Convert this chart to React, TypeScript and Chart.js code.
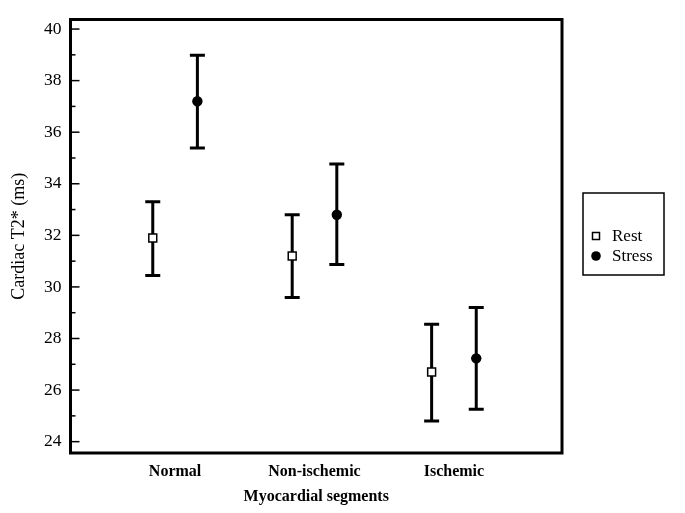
import React, { useEffect, useRef } from "react";
import { Chart, registerables } from "chart.js";

Chart.register(...registerables);

const categories = ["Normal", "Non-ischemic", "Ischemic"];
const seriesNames = ["Rest", "Stress"];
const restMean = [31.9, 31.2, 26.7];
const restLow = [30.44, 29.59, 24.8];
const restHigh = [33.3, 32.8, 28.55];
const stressMean = [37.2, 32.8, 27.23];
const stressLow = [35.39, 30.87, 25.26];
const stressHigh = [38.98, 34.77, 29.2];
const yTickValues = [24, 26, 28, 30, 32, 34, 36, 38, 40];
const xTitle = "Myocardial segments";
const yTitle = "Cardiac T2* (ms)";

const FONT = "'Liberation Serif', 'Times New Roman', serif";
const GROUP_OFFSET = 0.16;

const errorBarPlugin = {
  id: "errorBars",
  beforeDatasetsDraw(chart: any) {
    const { ctx, scales } = chart;
    const xs = scales.x;
    const ys = scales.y;
    ctx.save();
    ctx.strokeStyle = "#000";
    ctx.lineWidth = 3;
    ctx.lineCap = "butt";
    chart.data.datasets.forEach((ds: any) => {
      ds.data.forEach((p: any) => {
        const x = xs.getPixelForValue(p.x);
        const yl = ys.getPixelForValue(p.low);
        const yh = ys.getPixelForValue(p.high);
        const cap = 7.5;
        ctx.beginPath();
        ctx.moveTo(x, yl);
        ctx.lineTo(x, yh);
        ctx.moveTo(x - cap, yl);
        ctx.lineTo(x + cap, yl);
        ctx.moveTo(x - cap, yh);
        ctx.lineTo(x + cap, yh);
        ctx.stroke();
      });
    });
    ctx.restore();
  },
  afterDraw(chart: any) {
    const { ctx, chartArea, scales } = chart;
    const ys = scales.y;
    ctx.save();
    // y tick marks (inside)
    ctx.strokeStyle = "#000";
    ctx.lineWidth = 1.5;
    for (let v = Math.ceil(ys.min); v <= Math.floor(ys.max); v++) {
      const y = ys.getPixelForValue(v);
      const len = v % 2 === 0 ? 9 : 5;
      ctx.beginPath();
      ctx.moveTo(chartArea.left, y);
      ctx.lineTo(chartArea.left + len, y);
      ctx.stroke();
    }
    // frame
    ctx.lineWidth = 3;
    ctx.strokeRect(chartArea.left, chartArea.top, chartArea.right - chartArea.left, chartArea.bottom - chartArea.top);

    // legend box
    const lx = 583, ly = 193, lw = 81, lh = 82;
    ctx.lineWidth = 1.5;
    ctx.strokeRect(lx, ly, lw, lh);
    ctx.font = `17px ${FONT}`;
    ctx.textBaseline = "middle";
    ctx.textAlign = "left";
    ctx.fillStyle = "#000";
    chart.data.datasets.forEach((ds: any, i: number) => {
      const cy = 236 + i * 20;
      const cx = 596;
      if (ds.pointStyle === "rect") {
        ctx.fillStyle = "#fff";
        ctx.fillRect(cx - 3.5, cy - 3.5, 7, 7);
        ctx.lineWidth = 1.5;
        ctx.strokeRect(cx - 3.5, cy - 3.5, 7, 7);
      } else {
        ctx.fillStyle = "#000";
        ctx.beginPath();
        ctx.arc(cx, cy, 4.8, 0, Math.PI * 2);
        ctx.fill();
      }
      ctx.fillStyle = "#000";
      ctx.fillText(ds.label, 612, cy + 1);
    });
    ctx.restore();
  },
};

export default function App() {
  const ref = useRef<HTMLCanvasElement | null>(null);
  useEffect(() => {
    if (!ref.current) return;
    const restData = categories.map((_, i) => ({ x: i + 1 - GROUP_OFFSET, y: restMean[i], low: restLow[i], high: restHigh[i] }));
    const stressData = categories.map((_, i) => ({ x: i + 1 + GROUP_OFFSET, y: stressMean[i], low: stressLow[i], high: stressHigh[i] }));
    const chart = new Chart(ref.current, {
      type: "scatter",
      data: {
        datasets: [
          {
            label: seriesNames[0],
            data: restData,
            pointStyle: "rect",
            pointRadius: 5.6,
            pointBackgroundColor: "#fff",
            pointBorderColor: "#000",
            pointBorderWidth: 1.5,
          },
          {
            label: seriesNames[1],
            data: stressData,
            pointStyle: "circle",
            pointRadius: 5.2,
            pointBackgroundColor: "#000",
            pointBorderColor: "#000",
            pointBorderWidth: 0,
          },
        ],
      },
      options: {
        responsive: false,
        animation: false,
        layout: { padding: { left: 0, top: 18, right: 123, bottom: 0 } },
        plugins: { legend: { display: false }, tooltip: { enabled: false } },
        scales: {
          x: {
            type: "linear",
            min: 0.25,
            max: 3.775,
            grid: { display: false, drawTicks: false },
            border: { display: false },
            afterBuildTicks: (scale: any) => {
              scale.ticks = categories.map((_, i) => ({ value: i + 1 }));
            },
            afterFit: (scale: any) => {
              scale.height = 60;
            },
            ticks: {
              color: "#000",
              padding: 9,
              font: { family: FONT, size: 16, weight: "bold" },
              callback: (v: any) => categories[Math.round(Number(v)) - 1] ?? "",
            },
            title: {
              display: true,
              text: xTitle,
              color: "#000",
              font: { family: FONT, size: 16, weight: "bold" },
              padding: { top: 0, bottom: 7 },
            },
          },
          y: {
            min: 23.56,
            max: 40.37,
            grid: { display: false, drawTicks: false },
            border: { display: false },
            afterBuildTicks: (scale: any) => {
              scale.ticks = yTickValues.map((v) => ({ value: v }));
            },
            afterFit: (scale: any) => {
              scale.width = 70.5;
            },
            ticks: {
              color: "#000",
              padding: 9,
              font: { family: FONT, size: 17.5 },
              callback: (v: any) => String(v),
            },
            title: {
              display: true,
              text: yTitle,
              color: "#000",
              font: { family: FONT, size: 18 },
              padding: { top: 8, bottom: 0 },
            },
          },
        },
      },
      plugins: [errorBarPlugin],
    });
    return () => chart.destroy();
  }, []);
  return (
    <div style={{ position: "absolute", left: 0, top: 0, width: 685, height: 513, background: "#fff" }}>
      <canvas ref={ref} width={685} height={513} style={{ display: "block" }} />
    </div>
  );
}
